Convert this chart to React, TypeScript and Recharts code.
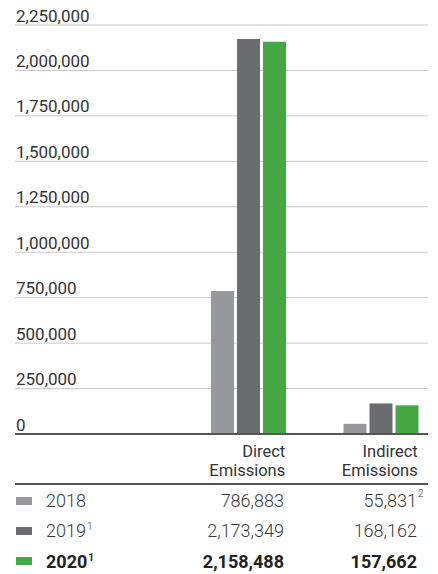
import React from 'react';
import { BarChart, Bar, XAxis, YAxis, CartesianGrid } from 'recharts';

const categories = ['Direct Emissions', 'Indirect Emissions'];
const years = ['2018', '2019', '2020'];
const yearNotes = ['', '1', '1'];
const values2018 = [786883, 55831];
const values2019 = [2173349, 168162];
const values2020 = [2158488, 157662];
const valueNotes2018 = ['', '2'];
const yTicks = [0, 250000, 500000, 750000, 1000000, 1250000, 1500000, 1750000, 2000000, 2250000];

const colors = ['#97989b', '#6b6c70', '#46a843'];
const seriesValues = [values2018, values2019, values2020];
const seriesNotes = [valueNotes2018, ['', ''], ['', '']];

const data = categories.map((name, i) => ({
  name,
  y2018: values2018[i],
  y2019: values2019[i],
  y2020: values2020[i],
}));

const fmt = (v: number) => v.toLocaleString('en-US');
const FONT = 'Roboto, "Noto Sans", sans-serif';

function YTick({ x, y, payload }: any) {
  return (
    <text x={x + 1} y={y - 3.5} textAnchor="start" fill="#333" fontSize={17} fontFamily={FONT}>
      {fmt(payload.value)}
    </text>
  );
}

function XTick({ x, y, payload }: any) {
  const [first, second] = String(payload.value).split(' ');
  return (
    <g>
      <text x={x + 37} y={y + 22.5} textAnchor="end" fill="#333" fontSize={16.5} fontFamily={FONT}>
        {first}
      </text>
      <text x={x + 37} y={y + 41.5} textAnchor="end" fill="#333" fontSize={16.5} fontFamily={FONT}>
        {second}
      </text>
    </g>
  );
}

function Sup({ children }: { children: React.ReactNode }) {
  return (
    <span style={{ fontSize: 10, position: 'relative', top: -7, marginLeft: 1 }}>{children}</span>
  );
}

export default function App() {
  return (
    <div style={{ width: 430, marginTop: -8, fontFamily: FONT }}>
      <BarChart
        width={430}
        height={483}
        data={data}
        margin={{ top: 25, right: 10, left: 7, bottom: 0 }}
        barSize={23}
        barGap={3}
      >
        <CartesianGrid vertical={false} stroke="#c8c8c8" />
        <YAxis
          mirror
          domain={[0, 2250000]}
          ticks={yTicks}
          axisLine={false}
          tickLine={false}
          tickSize={0}
          tickMargin={0}
          tick={<YTick />}
          interval={0}
        />
        <XAxis
          dataKey="name"
          height={49}
          padding={{ left: 167, right: -19 }}
          axisLine={{ stroke: '#555', strokeWidth: 2 }}
          tickLine={false}
          tickSize={0}
          tickMargin={0}
          tick={<XTick />}
          interval={0}
        />
        <Bar dataKey="y2018" fill={colors[0]} isAnimationActive={false} />
        <Bar dataKey="y2019" fill={colors[1]} isAnimationActive={false} />
        <Bar dataKey="y2020" fill={colors[2]} isAnimationActive={false} />
      </BarChart>
      <div style={{ marginLeft: 7, width: 413, borderTop: '2px solid #555', paddingTop: 1 }}>
        {years.map((yr, r) => {
          const bold = r === years.length - 1;
          return (
            <div
              key={yr}
              style={{
                position: 'relative',
                height: 30.3,
                fontSize: 18,
                fontWeight: bold ? 700 : 300,
                color: bold ? '#222' : '#3a3a3a',
              }}
            >
              <div style={{ position: 'absolute', left: 1, top: 10.5, width: 16, height: 8, background: colors[r] }} />
              <div style={{ position: 'absolute', left: 31, top: 4, lineHeight: '22px' }}>
                {yr}
                {yearNotes[r] && <Sup>{yearNotes[r]}</Sup>}
              </div>
              {categories.map((c, ci) => (
                <div
                  key={c}
                  style={{ position: 'absolute', right: ci === 0 ? 144 : 11, top: 4, lineHeight: '22px' }}
                >
                  <span style={{ position: 'relative' }}>
                    {fmt(seriesValues[r][ci])}
                    {seriesNotes[r][ci] && (
                      <span style={{ position: 'absolute', left: '100%', top: -7, fontSize: 10, marginLeft: 1 }}>
                        {seriesNotes[r][ci]}
                      </span>
                    )}
                  </span>
                </div>
              ))}
            </div>
          );
        })}
      </div>
    </div>
  );
}
